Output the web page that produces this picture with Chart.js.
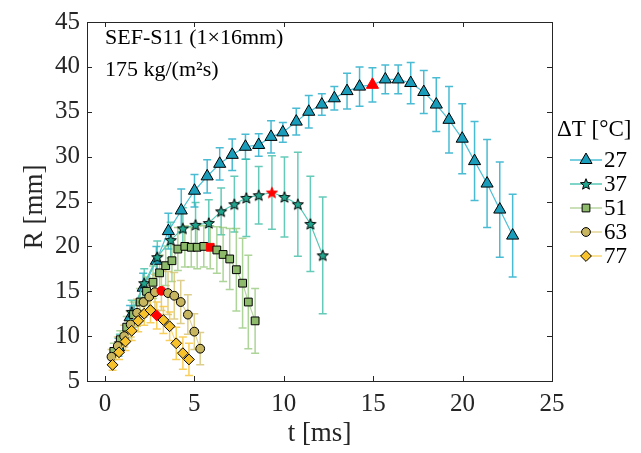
<!DOCTYPE html>
<html>
<head>
<meta charset="utf-8">
<script src="https://cdn.jsdelivr.net/npm/chart.js@4.4.1/dist/chart.umd.min.js"></script>
<style>
    html, body { margin: 0; padding: 0; background: #fff; }
</style>
</head>
<body>
<canvas id="graph" width="641" height="453"></canvas>
<script>
// axis ticks
const xTicks = [0, 5, 10, 15, 20, 25]
const yTicks = [5, 10, 15, 20, 25, 30, 35, 40, 45]

// dT = 27 °C
const t27 = [0.76, 1.41, 2.14, 2.88, 3.55, 4.27, 5.01, 5.72, 6.42, 7.12, 7.86, 8.60, 9.29, 9.95, 10.70, 11.40,
    12.13, 12.83, 13.54, 14.24, 14.96, 15.68, 16.40, 17.10, 17.83, 18.53, 19.24, 19.98, 20.67, 21.37, 22.08, 22.80]
const R27 = [8.75, 12.1, 15.4, 18.4, 21.7, 24.0, 26.2, 27.8, 29.2, 30.2, 31.1, 31.3, 32.2, 32.7, 33.9, 35.0,
    35.8, 36.5, 37.3, 37.8, 38.0, 38.6, 38.6, 38.2, 37.2, 35.8, 34.1, 32.0, 29.5, 27.0, 24.1, 21.2]
const e27 = [1.0, 1.3, 1.6, 1.6, 2.0, 2.4, 1.8, 1.85, 1.8, 1.75, 1.4, 1.25, 1.8, 1.1, 1.5, 1.8,
    1.2, 1.3, 2.0, 2.2, 1.9, 1.6, 1.6, 2.3, 2.4, 3.0, 3.7, 3.9, 4.4, 4.9, 5.3, 4.6]

// dT = 37 °C
const t37 = [0.84, 1.50, 2.20, 2.93, 3.68, 4.36, 5.07, 5.81, 6.50, 7.24, 7.91, 8.60, 9.34, 10.04, 10.79, 11.49, 12.18]
const R37 = [9.2, 12.7, 15.9, 18.8, 20.7, 22.0, 22.4, 22.6, 23.9, 24.7, 25.4, 25.7, 26.0, 25.5, 24.7, 22.5, 19.0]
const e37 = [1.0, 1.3, 1.6, 1.8, 2.0, 2.3, 2.5, 2.6, 2.6, 3.1, 4.3, 3.2, 4.1, 4.45, 5.8, 5.3, 6.5]

// dT = 51 °C
const t51 = [0.50, 0.86, 1.22, 1.60, 1.97, 2.33, 2.69, 3.06, 3.40, 3.75, 4.08, 4.47, 4.83, 5.16, 5.53, 5.89,
    6.26, 6.61, 6.98, 7.35, 7.70, 8.02, 8.40]
const R51 = [8.3, 9.6, 11.0, 12.4, 13.8, 15.0, 16.0, 17.05, 17.85, 18.4, 19.7, 20.0, 19.9, 19.9, 20.0, 19.9,
    19.6, 19.1, 18.6, 17.4, 15.9, 13.8, 11.7]
const e51 = [0.9, 1.0, 1.2, 1.4, 1.5, 1.6, 1.8, 2.0, 2.2, 2.3, 2.4, 2.3, 2.2, 2.4, 2.3, 2.4,
    2.6, 3.0, 3.4, 4.6, 5.0, 5.2, 3.6]

// dT = 63 °C
const t63 = [0.37, 0.72, 1.08, 1.44, 1.80, 2.16, 2.48, 2.80, 3.16, 3.53, 3.88, 4.24, 4.64, 5.00, 5.33]
const R63 = [7.7, 8.9, 10.0, 11.3, 12.6, 13.8, 14.4, 14.9, 15.05, 14.8, 14.5, 13.8, 12.4, 10.5, 8.6]
const e63 = [0.8, 1.0, 1.2, 1.4, 1.5, 1.7, 1.9, 2.0, 2.2, 2.4, 2.6, 2.4, 2.2, 2.0, 1.8]

// dT = 77 °C
const t77 = [0.43, 0.79, 1.15, 1.50, 1.86, 2.20, 2.55, 2.90, 3.27, 3.62, 3.99, 4.36, 4.70]
const R77 = [6.8, 8.2, 9.4, 10.6, 11.7, 12.5, 12.9, 12.3, 11.8, 11.1, 9.2, 8.1, 7.4]
const e77 = [0.6, 0.8, 1.0, 1.1, 1.2, 1.3, 1.4, 1.5, 1.5, 1.6, 1.8, 1.8, 1.8]

// index of the red marked point in each series
const redIdx = [20, 12, 15, 8, 7]
const labels = ['27', '37', '51', '63', '77']

const serif = '"Liberation Serif", "DejaVu Serif", serif'
const ink = '#262626'

function starImg(fill, stroke) {
    const c = document.createElement('canvas')
    c.width = 14
    c.height = 14
    const g = c.getContext('2d')
    g.beginPath()
    for (let k = 0; k < 10; k++) {
        const r = k % 2 ? 2.5 : 5.8
        const a = -Math.PI / 2 + k * Math.PI / 5
        g.lineTo(7 + r * Math.cos(a), 7.5 + r * Math.sin(a))
    }
    g.closePath()
    g.fillStyle = fill
    g.fill()
    g.strokeStyle = stroke
    g.lineWidth = 1
    g.stroke()
    return c
}

const star = starImg('#21a58e', '#000')
const starRed = starImg('#ff0000', '#ff0000')

function series(label, t, R, e, style, radius, fill, line, err, red, order) {
    return {
        label: label,
        data: t.map((v, i) => ({x: v, y: R[i]})),
        errors: e,
        errColor: err,
        borderColor: line,
        borderWidth: 1.2,
        backgroundColor: fill,
        pointStyle: t.map((v, i) => (style === 'star' ? (i === red ? starRed : star) : style)),
        pointRadius: radius,
        pointBackgroundColor: t.map((v, i) => (i === red ? '#ff0000' : fill)),
        pointBorderColor: t.map((v, i) => (i === red ? '#ff0000' : '#000')),
        pointBorderWidth: 1,
        order: order,
        showLine: true,
        tension: 0
    }
}

const datasets = [
    series(labels[0], t27, R27, e27, 'triangle', 7, '#1a9dba', '#4cbfd6', 'rgba(28,170,200,0.8)', redIdx[0], 5),
    series(labels[1], t37, R37, e37, 'star', 6, '#21a58e', '#55c7b4', 'rgba(50,185,160,0.75)', redIdx[1], 4),
    series(labels[2], t51, R51, e51, 'rect', 5.5, '#8dbb6b', '#b7d6a1', 'rgba(140,195,110,0.7)', redIdx[2], 3),
    series(labels[3], t63, R63, e63, 'circle', 4.4, '#c7b560', '#e2d496', 'rgba(210,190,100,0.75)', redIdx[3], 2),
    series(labels[4], t77, R77, e77, 'rectRot', 5.4, '#f7c22c', '#f9d874', 'rgba(248,195,50,0.8)', redIdx[4], 1)
]

const errorBars = {
    id: 'errorBars',
    beforeDatasetsDraw(chart) {
        const ctx = chart.ctx
        const xs = chart.scales.x, ys = chart.scales.y
        chart.data.datasets.forEach(ds => {
            ctx.save()
            ctx.strokeStyle = ds.errColor
            ctx.lineWidth = 1.5
            ds.data.forEach((p, j) => {
                const e = ds.errors[j]
                const x = xs.getPixelForValue(p.x)
                const y1 = ys.getPixelForValue(p.y - e)
                const y2 = ys.getPixelForValue(p.y + e)
                ctx.beginPath()
                ctx.moveTo(x, y1)
                ctx.lineTo(x, y2)
                ctx.moveTo(x - 4, y1)
                ctx.lineTo(x + 4, y1)
                ctx.moveTo(x - 4, y2)
                ctx.lineTo(x + 4, y2)
                ctx.stroke()
            })
            ctx.restore()
        })
    }
}

// box with inward ticks, text notes and the legend
const frame = {
    id: 'frame',
    afterDraw(chart) {
        const ctx = chart.ctx
        const a = chart.chartArea
        const xs = chart.scales.x, ys = chart.scales.y
        ctx.save()
        ctx.strokeStyle = ink
        ctx.lineWidth = 1
        ctx.strokeRect(a.left + 0.5, a.top + 0.5, a.right - a.left, a.bottom - a.top)
        ctx.beginPath()
        xTicks.forEach(v => {
            const x = Math.round(xs.getPixelForValue(v)) + 0.5
            ctx.moveTo(x, a.bottom)
            ctx.lineTo(x, a.bottom - 5)
            ctx.moveTo(x, a.top)
            ctx.lineTo(x, a.top + 5)
        })
        yTicks.forEach(v => {
            const y = Math.round(ys.getPixelForValue(v)) + 0.5
            ctx.moveTo(a.left, y)
            ctx.lineTo(a.left + 5, y)
            ctx.moveTo(a.right, y)
            ctx.lineTo(a.right - 5, y)
        })
        ctx.stroke()

        // y axis title
        ctx.fillStyle = ink
        ctx.font = '27px ' + serif
        ctx.textAlign = 'center'
        ctx.textBaseline = 'middle'
        ctx.save()
        ctx.translate(35, 207)
        ctx.rotate(-Math.PI / 2)
        ctx.fillText('R [mm]', 0, 0)
        ctx.restore()

        ctx.fillStyle = '#000'
        ctx.font = '22px ' + serif
        ctx.textAlign = 'left'
        ctx.fillText('SEF-S11 (1\u00d716mm)', 105, 38)
        ctx.fillText('175 kg/(m\u00b2s)', 105, 70)

        // legend
        ctx.font = '23px ' + serif
        ctx.fillText('\u0394T [\u00b0C]', 557, 130)
        chart.data.datasets.forEach((ds, i) => {
            const y = 160 + i * 24
            ctx.strokeStyle = ds.borderColor
            ctx.lineWidth = 1.5
            ctx.beginPath()
            ctx.moveTo(570, y)
            ctx.lineTo(602, y)
            ctx.stroke()
            const st = ds.pointStyle[0]
            ctx.fillStyle = ds.backgroundColor
            ctx.strokeStyle = '#000'
            ctx.lineWidth = 1
            Chart.helpers.drawPoint(ctx, {pointStyle: st, radius: ds.pointRadius, rotation: 0, borderWidth: 1}, 586, y)
            ctx.fillStyle = '#000'
            ctx.fillText(ds.label, 604, y + 1)
        })
        ctx.restore()
    }
}

new Chart(document.getElementById('graph').getContext('2d'), {
    type: 'scatter',
    data: { datasets: datasets },
    options: {
        responsive: false,
        animation: false,
        layout: { padding: { left: 0, top: 15, right: 89, bottom: 0 }, autoPadding: false },
        plugins: { legend: { display: false }, tooltip: { enabled: false } },
        scales: {
            x: {
                type: 'linear', min: -1, max: 25,
                afterBuildTicks: s => { s.ticks = xTicks.map(v => ({value: v})) },
                afterFit: s => { s.height = 72 },
                grid: { display: false, drawTicks: false },
                border: { display: false },
                ticks: { font: { family: serif, size: 25 }, color: ink, padding: 8, maxRotation: 0, autoSkip: false },
                title: { display: true, text: 't [ms]', font: { family: serif, size: 27 }, color: ink, padding: { top: 0, bottom: 3 } }
            },
            y: {
                type: 'linear', min: 5, max: 45,
                afterBuildTicks: s => { s.ticks = yTicks.map(v => ({value: v})) },
                afterFit: s => { s.width = 87 },
                grid: { display: false, drawTicks: false },
                border: { display: false },
                ticks: { font: { family: serif, size: 25 }, color: ink, padding: 7, autoSkip: false }
            }
        }
    },
    plugins: [errorBars, frame]
})
</script>
</body>
</html>
